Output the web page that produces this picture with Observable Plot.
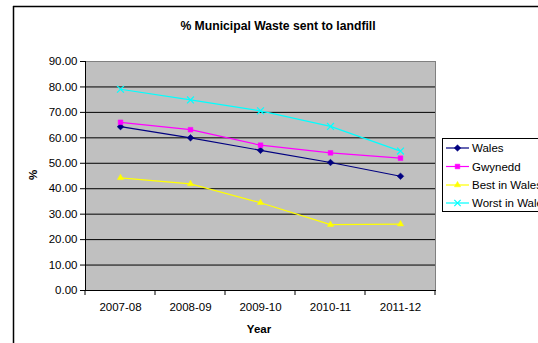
<!DOCTYPE html>
<html>
<head>
<meta charset="utf-8">
<script src="https://cdn.jsdelivr.net/npm/d3@7"></script>
<script src="https://cdn.jsdelivr.net/npm/@observablehq/plot@0.6"></script>
<style>
  html, body { margin: 0; padding: 0; background: #fff; }
  svg { display: block; }
</style>
</head>
<body>
<div id="chart"></div>
<script>
const years = ["2007-08", "2008-09", "2009-10", "2010-11", "2011-12"];
const wales = [64.4, 60.0, 55.1, 50.3, 44.9];
const gwynedd = [66.1, 63.2, 57.1, 54.1, 52.0];
const bestInWales = [44.3, 41.9, 34.5, 25.9, 26.1];
const worstInWales = [79.1, 74.9, 70.6, 64.5, 54.8];
const seriesNames = ["Wales", "Gwynedd", "Best in Wales", "Worst in Wales"];
const seriesColors = ["#000080", "#FF00FF", "#FFFF00", "#00FFFF"];
const seriesSymbols = ["diamond2", "square2", "triangle2", "times"];
const yTicks = [0, 10, 20, 30, 40, 50, 60, 70, 80, 90];
const titleText = "% Municipal Waste sent to landfill";
const xLabel = "Year";
const yLabel = "%";

const seriesValues = [wales, gwynedd, bestInWales, worstInWales];
const rows = [];
seriesNames.forEach((s, i) => years.forEach((yr, j) => rows.push({series: s, year: yr, value: seriesValues[i][j]})));

const font = "Liberation Sans, Arial, sans-serif";
const W = 538, H = 343;
const mL = 85, mR = 103, mT = 61, mB = 53;

const marks = [
  Plot.frame({fill: "#C0C0C0", stroke: null}),
  Plot.gridY(yTicks, {stroke: "#000", strokeOpacity: 1, strokeWidth: 1}),
  Plot.frame({anchor: "top", stroke: "#808080"}),
  Plot.frame({anchor: "right", stroke: "#808080"}),
  Plot.frame({anchor: "left", stroke: "#000"}),
  Plot.frame({anchor: "bottom", stroke: "#000"}),
  Plot.axisY(yTicks, {tickSize: 5, tickPadding: 3, tickFormat: d => d.toFixed(2), fontSize: 11.5, fill: "#000", stroke: "#000", label: null}),
  Plot.axisX({tickSize: 0, tickPadding: 12, fontSize: 11.5, fill: "#000", label: null})
];
seriesNames.forEach((s, i) => {
  const d = rows.filter(r => r.series === s);
  marks.push(Plot.line(d, {x: "year", y: "value", stroke: seriesColors[i], strokeWidth: 1.2}));
  marks.push(Plot.dot(d, {x: "year", y: "value", symbol: () => seriesSymbols[i], r: i === 3 ? 3.2 : 3, fill: i === 3 ? "none" : seriesColors[i], stroke: seriesColors[i], strokeWidth: i === 3 ? 1.2 : 0.5}));
});

const plot = Plot.plot({
  width: W, height: H,
  marginLeft: mL, marginRight: mR, marginTop: mT, marginBottom: mB,
  style: {fontFamily: font, background: "#fff", color: "#000"},
  x: {type: "point", domain: years, padding: 0.5, align: 0.5},
  y: {domain: [0, 90]},
  marks
});

const svg = d3.select(plot);
svg.attr("font-family", font);
const step = (W - mL - mR) / years.length;
// x tick marks at category boundaries
const bounds = [];
for (let i = 0; i <= years.length; i++) bounds.push(mL + i * step);
svg.append("g").selectAll("line").data(bounds).join("line")
  .attr("x1", d => d).attr("x2", d => d)
  .attr("y1", H - mB).attr("y2", H - mB + 5)
  .attr("stroke", "#000");

// outer chart frame (cropped)
svg.append("line").attr("x1", 13.5).attr("x2", 13.5).attr("y1", 6).attr("y2", H).attr("stroke", "#000").attr("stroke-width", 1.5);
svg.append("line").attr("x1", 13).attr("x2", W).attr("y1", 6.5).attr("y2", 6.5).attr("stroke", "#000").attr("stroke-width", 1.5);

// title and axis labels
svg.append("text").text(titleText).attr("x", 278).attr("y", 30)
  .attr("text-anchor", "middle").attr("font-weight", "bold").attr("font-size", 12.2);
svg.append("text").text(xLabel).attr("x", 259).attr("y", 333)
  .attr("text-anchor", "middle").attr("font-weight", "bold").attr("font-size", 11.5);
svg.append("text").text(yLabel).attr("transform", "translate(37,175) rotate(-90)")
  .attr("text-anchor", "middle").attr("font-weight", "bold").attr("font-size", 11.5);

// legend
const lg = svg.append("g");
lg.append("rect").attr("x", 442.5).attr("y", 138.5).attr("width", 120).attr("height", 73)
  .attr("fill", "#fff").attr("stroke", "#000");
const legendY = [148, 166.5, 185, 203];
const symMap = {diamond2: d3.symbolDiamond2, square2: d3.symbolSquare2, triangle2: d3.symbolTriangle2, times: d3.symbolTimes};
seriesNames.forEach((s, i) => {
  const y = legendY[i];
  lg.append("line").attr("x1", 446).attr("x2", 469).attr("y1", y).attr("y2", y)
    .attr("stroke", seriesColors[i]).attr("stroke-width", 1.2);
  lg.append("path").attr("d", d3.symbol(symMap[seriesSymbols[i]], 28)())
    .attr("transform", `translate(457.5,${y})`)
    .attr("fill", i === 3 ? "none" : seriesColors[i]).attr("stroke", seriesColors[i])
    .attr("stroke-width", i === 3 ? 1.2 : 0.5);
  lg.append("text").text(s).attr("x", 472).attr("y", y + 4).attr("font-size", 11.5)
    .attr("text-anchor", "start").attr("fill", "#000");
});

document.getElementById("chart").appendChild(plot);
</script>
</body>
</html>
